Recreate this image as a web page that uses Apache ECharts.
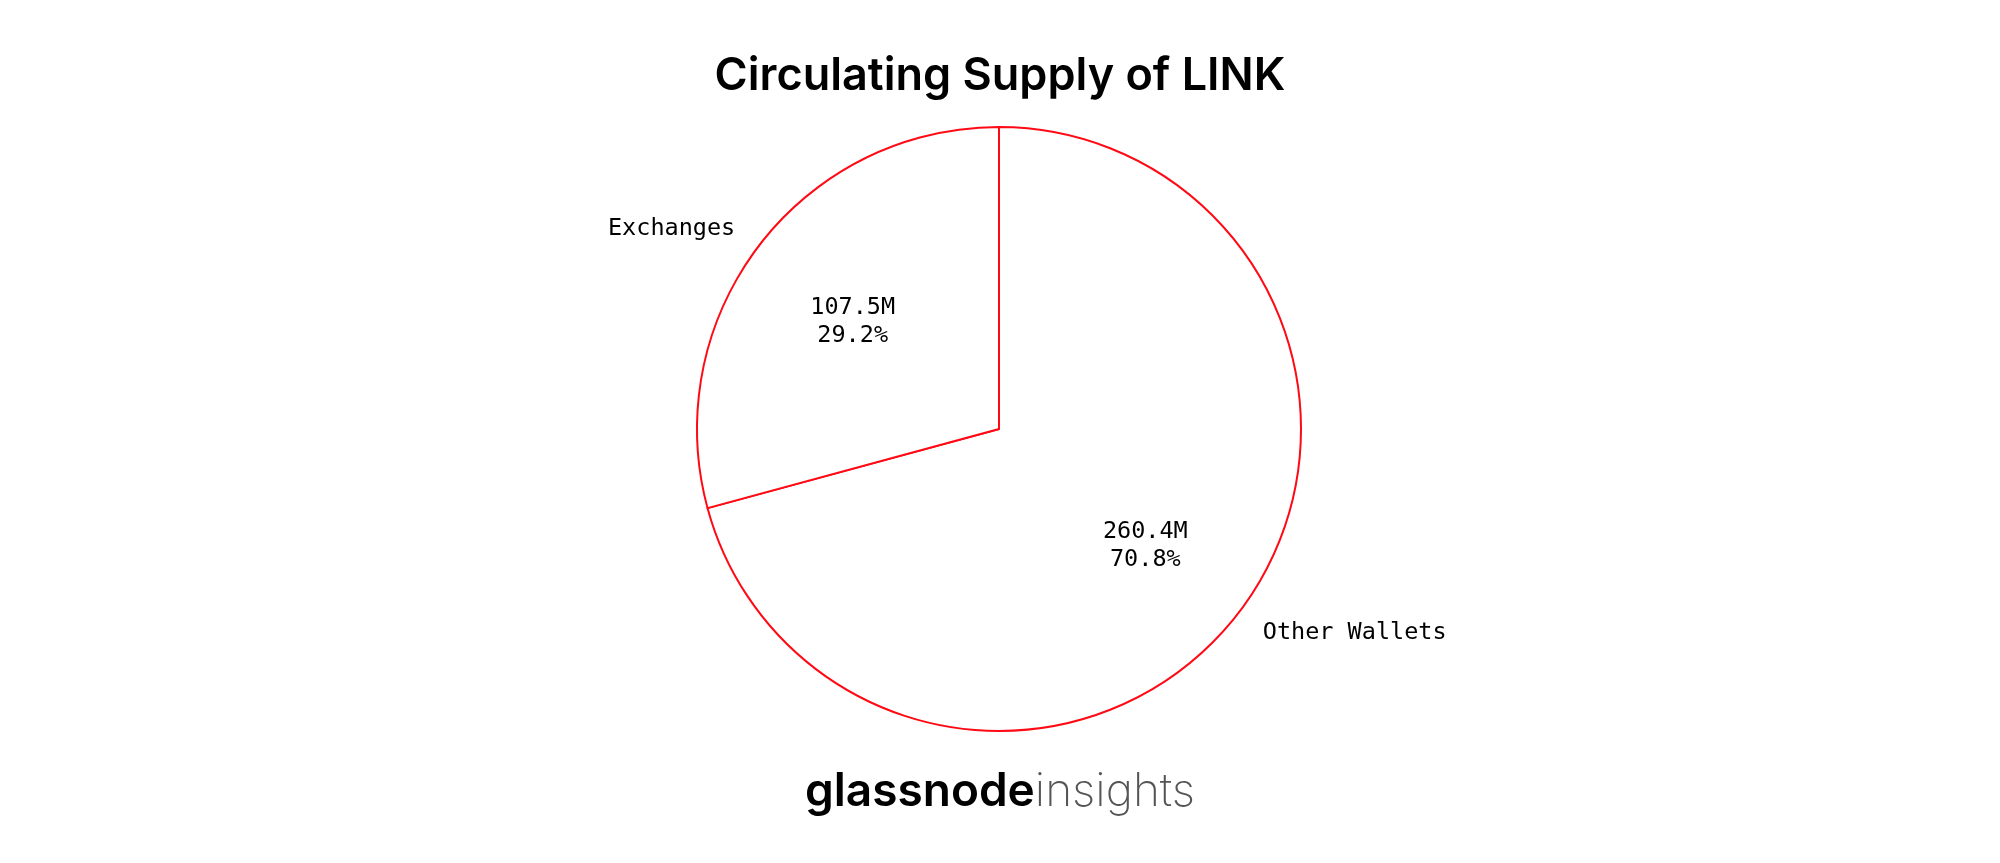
<!DOCTYPE html>
<html>
<head>
<meta charset="utf-8">
<script src="https://cdn.jsdelivr.net/npm/echarts@6/dist/echarts.min.js"></script>
<style>
html,body{margin:0;padding:0;background:#fff;}
#chart{width:2000px;height:863px;}
</style>
</head>
<body>
<div id="chart"></div>
<script>
const categories = ['Other Wallets', 'Exchanges'];
const valuesM = [260.4, 107.5];
const titleText = 'Circulating Supply of LINK';

const data = categories.map((c, i) => ({ name: c, value: valuesM[i] }));
const R = 302;
const CX = 999, CY = 429;
const monoFont = 'DejaVu Sans Mono';

const chart = echarts.init(document.getElementById('chart'), null, { renderer: 'canvas' });
chart.setOption({
  backgroundColor: '#ffffff',
  animation: false,
  title: [{
    text: titleText,
    left: 'center',
    top: 49,
    textStyle: { fontFamily: 'Inter', fontWeight: 600, fontSize: 45, color: '#000' }
  }, {
    text: '{a|glassnode}{b|insights}',
    left: 'center',
    top: 764,
    textStyle: {
      rich: {
        a: { fontFamily: 'Inter', fontWeight: 600, fontSize: 46, color: '#000', letterSpacing: -1 },
        b: { fontFamily: 'Inter', fontWeight: 200, fontSize: 46, color: '#555' }
      }
    }
  }],
  series: [{
    type: 'pie',
    center: [CX, CY],
    radius: [0, R],
    startAngle: 90,
    clockwise: true,
    avoidLabelOverlap: false,
    silent: true,
    data: data,
    itemStyle: { color: '#ffffff', borderColor: '#ff0a14', borderWidth: 2 },
    label: {
      show: true,
      position: 'outside',
      formatter: '{b}',
      fontFamily: monoFont,
      fontSize: 23.5,
      color: '#000',
      distanceToLabelLine: 0,
      offset: [0, 2]
    },
    labelLine: { show: false, length: 30, length2: 0 }
  }, {
    type: 'pie',
    center: [CX, CY],
    radius: [0, R * 1.2],
    startAngle: 90,
    clockwise: true,
    avoidLabelOverlap: false,
    silent: true,
    z: 3,
    data: data,
    itemStyle: { color: 'rgba(0,0,0,0)', borderWidth: 0 },
    label: {
      show: true,
      position: 'inside',
      formatter: p => p.value.toFixed(1) + 'M\n' + p.percent.toFixed(1) + '%',
      fontFamily: monoFont,
      fontSize: 23.5,
      lineHeight: 28,
      color: '#000',
      align: 'center',
      offset: [0, 5]
    },
    labelLine: { show: false }
  }]
});
</script>
</body>
</html>
